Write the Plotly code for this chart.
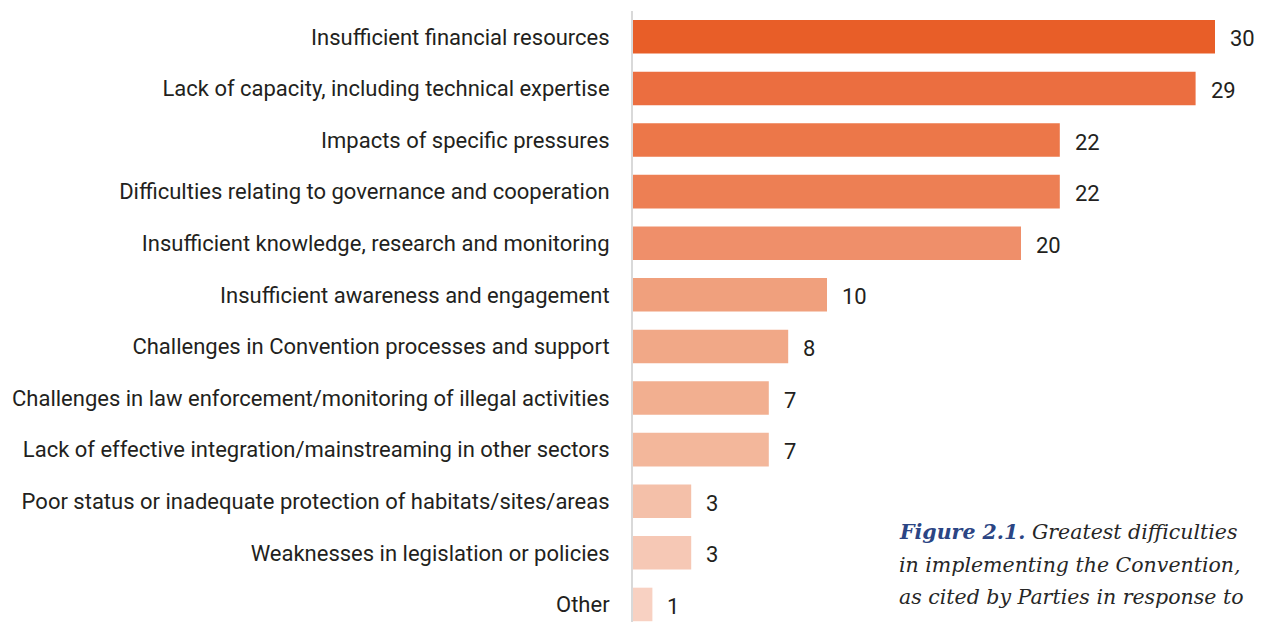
import plotly.graph_objects as go

categories = [
    "Insufficient financial resources",
    "Lack of capacity, including technical expertise",
    "Impacts of specific pressures",
    "Difficulties relating to governance and cooperation",
    "Insufficient knowledge, research and monitoring",
    "Insufficient awareness and engagement",
    "Challenges in Convention processes and support",
    "Challenges in law enforcement/monitoring of illegal activities",
    "Lack of effective integration/mainstreaming in other sectors",
    "Poor status or inadequate protection of habitats/sites/areas",
    "Weaknesses in legislation or policies",
    "Other",
]
values = [30, 29, 22, 22, 20, 10, 8, 7, 7, 3, 3, 1]
colors = [
    "#E85E28", "#EB6E40", "#EC7749", "#ED7F54", "#EF8F6A", "#F0A07D",
    "#F1A887", "#F2AF90", "#F3B79B", "#F4C0A9", "#F6C8B5", "#F8D1C2",
]
caption_lines = [
    "<b style='color:#2B4584'>Figure 2.1.</b> Greatest difficulties",
    "in implementing the Convention,",
    "as cited by Parties in response to",
]

TEXT = "#231F20"
FONT = "Roboto"
L, T, W, H = 633, 11, 1263, 622
PW, PH = W - L, H - T

fig = go.Figure()
fig.add_trace(go.Bar(
    y=categories, x=values, orientation="h",
    marker=dict(color=colors, line=dict(width=0)),
    width=0.65, hoverinfo="skip",
))

for c, v in zip(categories, values):
    fig.add_annotation(
        x=v, y=c, xref="x", yref="y", text=str(v), showarrow=False,
        xanchor="left", yanchor="middle", xshift=13, yshift=-2,
        font=dict(family=FONT, size=22, color=TEXT),
    )

cap_y = [532, 564.5, 597]
for line, yy in zip(caption_lines, cap_y):
    fig.add_annotation(
        x=(897 - L) / PW, y=(H - yy) / PH, xref="paper", yref="paper",
        text=f"<i>{line}</i>", showarrow=False, xanchor="left",
        yanchor="middle",
        font=dict(family="DejaVu Serif", size=20.5, color="#262626"),
    )

fig.update_layout(
    width=W, height=H,
    margin=dict(l=L, r=0, t=T, b=0, pad=0),
    paper_bgcolor="white", plot_bgcolor="white",
    showlegend=False,
    xaxis=dict(range=[0, PW / 19.4], visible=False, showgrid=False,
               zeroline=False),
    yaxis=dict(
        categoryorder="array", categoryarray=categories,
        range=[11.34, -0.5], showgrid=False, zeroline=False,
        showline=True, linecolor="#D9D9D9", linewidth=2,
        ticks="", ticklabelstandoff=17,
        tickfont=dict(family=FONT, size=22, color=TEXT),
    ),
)

fig.write_html("out.html", config={"displayModeBar": False},
               post_script="document.body.style.margin='0';")
